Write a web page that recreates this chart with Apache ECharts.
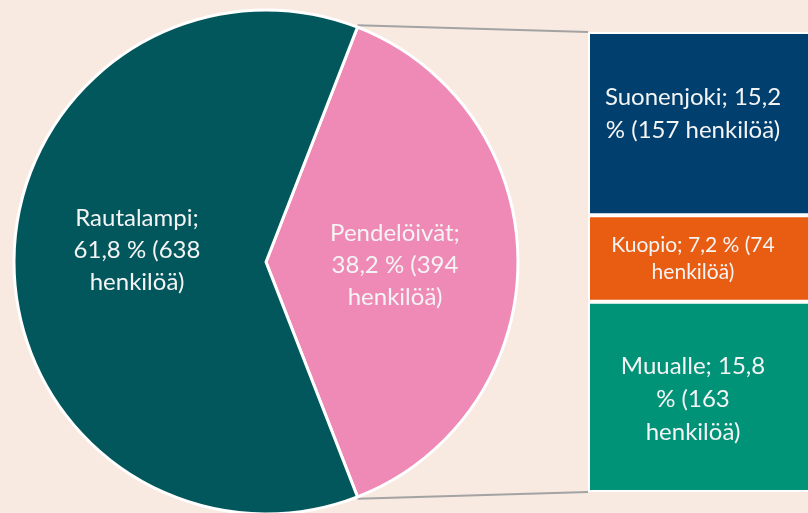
<!DOCTYPE html>
<html>
<head>
<meta charset="utf-8">
<script src="https://cdn.jsdelivr.net/npm/echarts@6/dist/echarts.min.js"></script>
<style>
  html, body { margin: 0; padding: 0; background: #f8e9e1; }
  #chart { width: 808px; height: 513px; }
</style>
</head>
<body>
<div id="chart"></div>
<script>
// pie: kaikki
var pieNames = ['Pendelöivät', 'Rautalampi'];
var pieValues = [394, 638];
var piePct = ['38,2', '61,8'];
var pieColors = ['#ef8ab6', '#02575c'];

// bar: pendelöivien kohteet
var barNames = ['Suonenjoki', 'Kuopio', 'Muualle'];
var barValues = [157, 74, 163];
var barPct = ['15,2', '7,2', '15,8'];
var barColors = ['#003f6e', '#e85d12', '#009378'];
var barLabels = [
  'Suonenjoki; 15,2\n% (157 henkilöä)',
  'Kuopio; 7,2 % (74\nhenkilöä)',
  'Muualle; 15,8\n% (163\nhenkilöä)'
];
var barFont = [24, 21, 24];
var barLineH = [33, 27, 33];

var font = 'Lato, "Open Sans", sans-serif';
var cx = 266, cy = 262, r = 252;
var gridLeft = 588, gridTop = 32, gridH = 460;

var total = pieValues.reduce(function (a, b) { return a + b; }, 0);
var half = pieValues[0] / total * 180; // puolikulma asteina
var startAngle = half;

var a = half * Math.PI / 180;
var topPt = [cx + r * Math.cos(a), cy - r * Math.sin(a)];
var botPt = [cx + r * Math.cos(a), cy + r * Math.sin(a)];

var chart = echarts.init(document.getElementById('chart'));

var option = {
  backgroundColor: '#f8e9e1',
  animation: false,
  grid: { left: gridLeft, top: gridTop, width: 228, height: gridH, outerBoundsMode: 'none' },
  xAxis: { type: 'category', data: ['Pendelöivät'], show: false },
  yAxis: { type: 'value', min: 0, max: pieValues[0], inverse: true, show: false },
  graphic: [
    { type: 'line', shape: { x1: topPt[0], y1: topPt[1] - 2, x2: gridLeft, y2: gridTop }, style: { stroke: '#a3a3a3', lineWidth: 2 }, z: 0 },
    { type: 'line', shape: { x1: botPt[0], y1: botPt[1] + 2, x2: gridLeft, y2: gridTop + gridH }, style: { stroke: '#a3a3a3', lineWidth: 2 }, z: 0 }
  ],
  series: [
    {
      type: 'pie',
      center: [cx, cy],
      radius: r,
      startAngle: startAngle,
      clockwise: true,
      z: 5,
      itemStyle: { borderColor: '#ffffff', borderWidth: 3 },
      label: {
        position: 'inside',
        color: '#f4f4f4',
        fontFamily: font,
        fontSize: 24,
        lineHeight: 32,
        align: 'left',
        formatter: function (p) {
          return pieNames[p.dataIndex] + ';\n' + piePct[p.dataIndex] + ' % (' + pieValues[p.dataIndex] + '\nhenkilöä)';
        }
      },
      labelLine: { show: false },
      data: pieNames.map(function (n, i) {
        return {
          name: n,
          value: pieValues[i],
          itemStyle: { color: pieColors[i] },
          label: { offset: i === 0 ? [0, 3] : [0, -12] }
        };
      })
    }
  ].concat(barNames.map(function (n, i) {
    return {
      type: 'bar',
      name: n,
      stack: 'p',
      barWidth: '100%',
      itemStyle: { color: barColors[i], borderColor: '#ffffff', borderWidth: 2 },
      label: {
        show: true,
        position: 'inside',
        color: '#f4f4f4',
        fontFamily: font,
        fontSize: barFont[i],
        lineHeight: barLineH[i],
        align: 'center',
        offset: [-9, i === 0 ? -10 : (i === 2 ? 2 : 0)],
        formatter: function () { return barLabels[i]; }
      },
      data: [barValues[i]]
    };
  }))
};

chart.setOption(option);
</script>
</body>
</html>
